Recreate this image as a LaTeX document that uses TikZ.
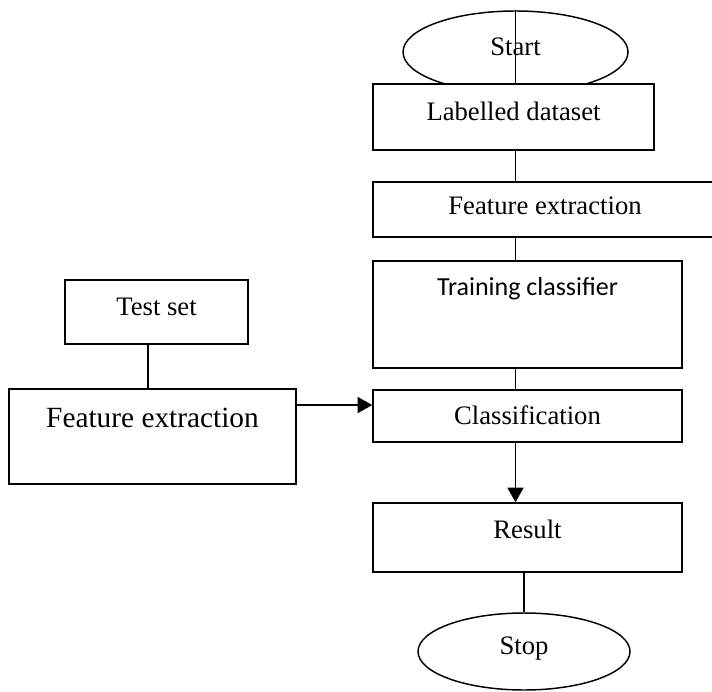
\documentclass[tikz,border=0pt]{standalone}
\usepackage{fontspec}
\setmainfont{Liberation Serif}
\newfontfamily\calibri{Carlito}
\usetikzlibrary{shapes.geometric,arrows.meta}

\begin{document}
\begin{tikzpicture}[x=0.75pt, y=-0.75pt,
    box/.style={draw, line width=1.1pt, fill=white, inner sep=0pt, text height=14pt, font=\fontsize{20}{24}\selectfont},
    terminal/.style={box, ellipse},
    link/.style={line width=1.3pt},
    arrowlink/.style={link, -{Triangle[length=11pt, width=12pt]}}]
    \path[use as bounding box, clip] (0,0) rectangle (712,691);
    % main column
    \node[terminal, minimum width=168.75pt, minimum height=61.5pt, text depth=8pt] (start) at (515.5,52) {Start};
    \node[box, minimum width=210.75pt, minimum height=49.5pt, text depth=8pt] (data) at (513.5,117) {Labelled dataset};
    \node[box, minimum width=258pt, minimum height=41.25pt, text depth=5.8pt] (featR) at (545,209.5) {Feature extraction};
    \node[box, minimum width=231.75pt, minimum height=80.25pt, text depth=41.8pt, font=\calibri\fontsize{19.5}{23}\selectfont] (train) at (527.5,314.5) {Training classifier};
    \node[box, minimum width=231.75pt, minimum height=39pt, text depth=2pt] (classif) at (527.5,416) {Classification};
    \node[box, minimum width=231.75pt, minimum height=51.75pt, text depth=11.8pt] (result) at (527.5,537.5) {Result};
    \node[terminal, minimum width=159pt, minimum height=57.75pt, text depth=8.8pt] (stop) at (524,651.5) {Stop};
    % test branch
    \node[box, minimum width=137.25pt, minimum height=48pt, text depth=9.5pt] (test) at (156.5,312) {Test set};
    \node[box, minimum width=215.25pt, minimum height=71.25pt, text depth=28.2pt, font=\fontsize{22}{26}\selectfont] (featL) at (152.5,436.5) {Feature extraction};

    \draw[link] (start.north) -- (data.north -| start.north);
    \draw[link] (data.south -| start.north) -- (featR.north -| start.north);
    \draw[link] (featR.south -| start.north) -- (train.north -| start.north);
    \draw[link] (train.south -| start.north) -- (classif.north -| start.north);
    \draw[arrowlink] (classif.south -| start.north) -- (result.north -| start.north);
    \draw[link] (result.south -| stop.north) -- (stop.north);
    \draw[link] ([xshift=-6.4pt]test.south) -- ([xshift=-6.4pt]test.south |- featL.north);
    \draw[arrowlink] ([yshift=23.6pt]featL.east) -- ([yshift=23.6pt]featL.east -| classif.west);
\end{tikzpicture}
\end{document}
